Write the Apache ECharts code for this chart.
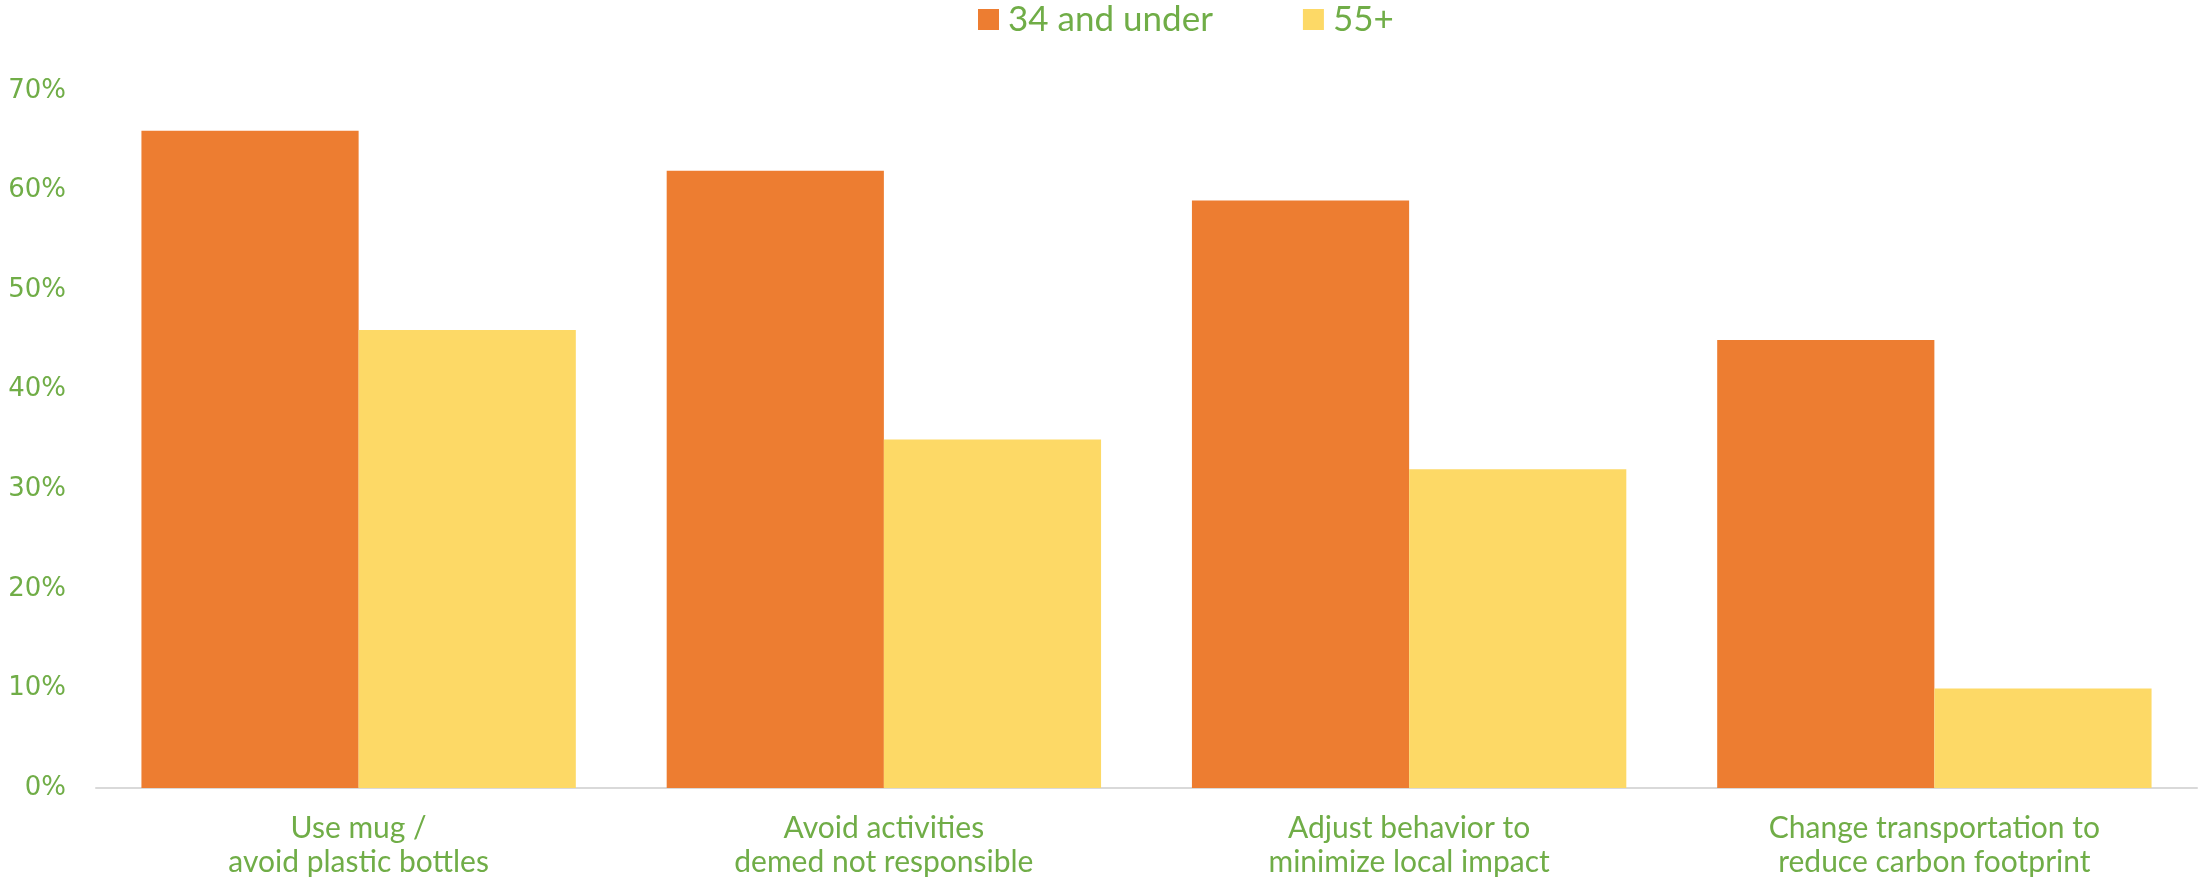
<!DOCTYPE html>
<html><head><meta charset="utf-8">
<script src="https://cdn.jsdelivr.net/npm/echarts@6/dist/echarts.min.js"></script>
<style>html,body{margin:0;padding:0;background:#fff}#c{width:2201px;height:880px}</style>
</head><body><div id="c"></div>
<script>
const categories = ["Use mug /\navoid plastic bottles", "Avoid activities\ndemed not responsible", "Adjust behavior to\nminimize local impact", "Change transportation to\nreduce carbon footprint"];
const seriesNames = ["34 and under", "55+"];
const young = [66, 62, 59, 45];
const older = [46, 35, 32, 10];
const yTicks = [0, 10, 20, 30, 40, 50, 60, 70];

const green = '#70AD47';
const chart = echarts.init(document.getElementById('c'));
chart.setOption({
  animation: false,
  backgroundColor: '#fff',
  legend: {
    left: 978, top: 2, padding: 0,
    itemWidth: 21, itemHeight: 21, itemGap: 90,
    icon: 'rect',
    textStyle: { color: green, fontFamily: 'Lato', fontSize: 35, lineHeight: 30, padding: [0,0,0,4] },
    data: seriesNames
  },
  grid: { left: 96, right: 4, top: 91, bottom: 92, containLabel: false },
  xAxis: {
    type: 'category', data: categories,
    axisTick: { show: false },
    axisLine: { lineStyle: { color: '#D9D9D9', width: 2 } },
    axisLabel: { color: green, fontFamily: 'Lato', fontSize: 30, lineHeight: 34, margin: 23, interval: 0 }
  },
  yAxis: {
    type: 'value', min: yTicks[0], max: yTicks[yTicks.length-1], interval: 10,
    splitLine: { show: false },
    axisLine: { show: false }, axisTick: { show: false },
    axisLabel: { color: green, fontFamily: 'DejaVu Sans', fontSize: 26, margin: 30, formatter: '{value}%' }
  },
  series: [
    { name: seriesNames[0], type: 'bar', data: young, itemStyle: { color: '#ED7D31' }, barGap: '0%', barCategoryGap: '17.3%' },
    { name: seriesNames[1], type: 'bar', data: older, itemStyle: { color: '#FDD966' }, barGap: '0%', barCategoryGap: '17.3%' }
  ]
});
</script></body></html>
